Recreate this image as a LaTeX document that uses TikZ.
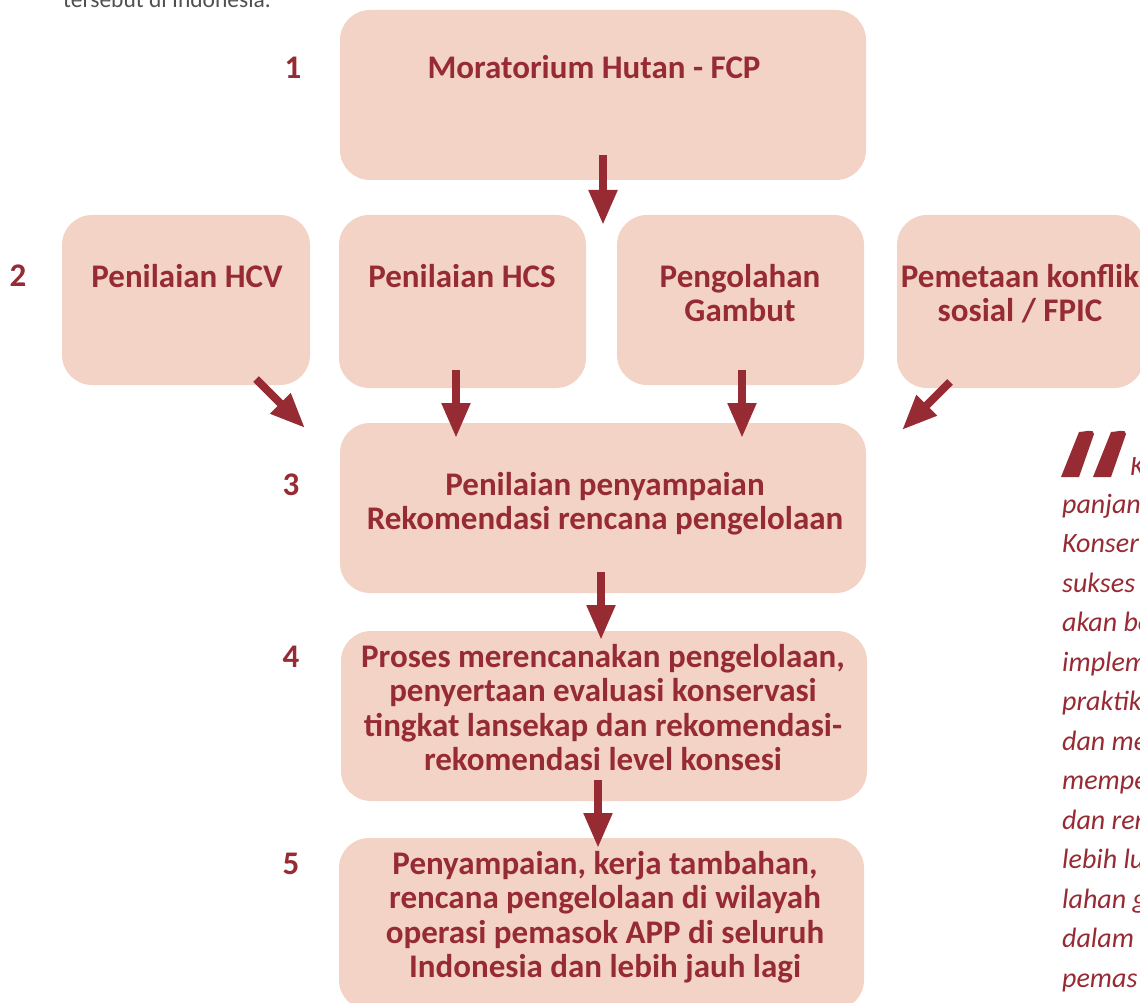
\documentclass[tikz,border=0pt]{standalone}
\usepackage{fontspec}
\setmainfont{Carlito}
\usetikzlibrary{arrows.meta,calc}
\definecolor{boxfill}{HTML}{F3D3C5}
\definecolor{maroon}{HTML}{962B34}
\definecolor{greytxt}{HTML}{505050}
\tikzset{
  box/.style={fill=boxfill, draw=none, rounded corners=30pt, inner sep=0pt},
  boxtxt/.style={text=maroon, font=\bfseries\fontsize{33}{34.5}\selectfont, align=center, anchor=north, inner sep=0pt},
  numtxt/.style={text=maroon, font=\bfseries\fontsize{33}{34.5}\selectfont, inner sep=0pt},
  quotetxt/.style={text=maroon, font=\itshape\fontsize{28}{33}\selectfont, anchor=base west, inner sep=0pt},
  bigarrow/.style={draw=maroon, line width=8pt, -{Triangle[length=35pt,width=27pt]}},
}
\begin{document}
\begin{tikzpicture}[x=1pt,y=-1pt]
\useasboundingbox (0,0) rectangle (1140,1003);
\clip (0,0) rectangle (1140,1003);

% top text (cut)
\node[text=greytxt, font=\fontsize{23.5}{26}\selectfont, anchor=base west, inner sep=0pt] (toptext) at (63,8) {tersebut di Indonesia.};

% boxes
\node[box, minimum width=526pt, minimum height=170pt] (b1) at (603,95) {};
\node[box, minimum width=248pt, minimum height=170pt] (hcv) at (186,300) {};
\node[box, minimum width=247pt, minimum height=173pt] (hcs) at (462.5,301.5) {};
\node[box, minimum width=247pt, minimum height=170pt] (gam) at (740.5,300) {};
\node[box, minimum width=247pt, minimum height=173pt] (pem) at (1020.5,301.5) {};
\node[box, minimum width=526pt, minimum height=170pt] (b3) at (603,508) {};
\node[box, minimum width=526pt, minimum height=170pt] (b4) at (604,716) {};
\node[box, minimum width=525pt, minimum height=172pt] (b5) at (601.5,924) {};

% box texts
\node[boxtxt] (t1) at (594,55) {Moratorium Hutan - FCP};
\node[boxtxt] (thcv) at (187,264) {Penilaian HCV};
\node[boxtxt] (thcs) at (462,264) {Penilaian HCS};
\node[boxtxt] (tgam) at (740,264) {Pengolahan\\Gambut};
\node[boxtxt] (tpem) at (1020,264) {Pemetaan konflik\\sosial / FPIC};
\node[boxtxt] (t3) at (605,472) {Penilaian penyampaian\\Rekomendasi rencana pengelolaan};
\node[boxtxt] (t4) at (603,644) {Proses merencanakan pengelolaan,\\penyertaan evaluasi konservasi\\tingkat lansekap dan rekomendasi-\\rekomendasi level konsesi};
\node[boxtxt] (t5) at (605,851) {Penyampaian, kerja tambahan,\\rencana pengelolaan di wilayah\\operasi pemasok APP di seluruh\\Indonesia dan lebih jauh lagi};

% step numbers
\node[numtxt] (n1) at (293,68) {1};
\node[numtxt] (n2) at (18,276) {2};
\node[numtxt] (n3) at (291,485) {3};
\node[numtxt] (n4) at (291,657) {4};
\node[numtxt] (n5) at (291,864) {5};

% arrow end points
\coordinate (a1s) at (603,155); \coordinate (a1e) at (603,225);
\coordinate (ahcvs) at (256,379); \coordinate (ahcve) at (305,428);
\coordinate (ahcss) at (456,370); \coordinate (ahcse) at (456,438);
\coordinate (agams) at (742,370); \coordinate (agame) at (742,438);
\coordinate (apems) at (950,382); \coordinate (apeme) at (902,430);
\coordinate (a3s) at (601,572); \coordinate (a3e) at (601,640);
\coordinate (a4s) at (598,780); \coordinate (a4e) at (598,848);

\draw[bigarrow] (a1s) -- (a1e);
\draw[bigarrow] (ahcvs) -- (ahcve);
\draw[bigarrow] (ahcss) -- (ahcse);
\draw[bigarrow] (agams) -- (agame);
\draw[bigarrow] (apems) -- (apeme);
\draw[bigarrow] (a3s) -- (a3e);
\draw[bigarrow] (a4s) -- (a4e);

% quote mark
\fill[maroon] (1079,432) to[out=0,in=90] (1094,434) -- (1079,477) -- (1061,477) -- cycle;
\fill[maroon] (1111,432) to[out=0,in=90] (1126,434) -- (1111,477) -- (1093,477) -- cycle;

% quote text (cut at right edge)
\node[quotetxt] (q0) at (1130,475) {K};
\node[quotetxt] (q1) at (1062,513) {panjang};
\node[quotetxt] (q2) at (1062,552.5) {Konserv};
\node[quotetxt] (q3) at (1062,592) {sukses};
\node[quotetxt] (q4) at (1062,631.5) {akan be};
\node[quotetxt] (q5) at (1062,671) {implem};
\node[quotetxt] (q6) at (1062,710.5) {praktik};
\node[quotetxt] (q7) at (1062,750) {dan me};
\node[quotetxt] (q8) at (1062,789.5) {mempe};
\node[quotetxt] (q9) at (1062,829) {dan ren};
\node[quotetxt] (q10) at (1062,868.5) {lebih lu};
\node[quotetxt] (q11) at (1062,908) {lahan g};
\node[quotetxt] (q12) at (1062,947.5) {dalam};
\node[quotetxt] (q13) at (1062,987) {pemas};
\end{tikzpicture}
\end{document}
